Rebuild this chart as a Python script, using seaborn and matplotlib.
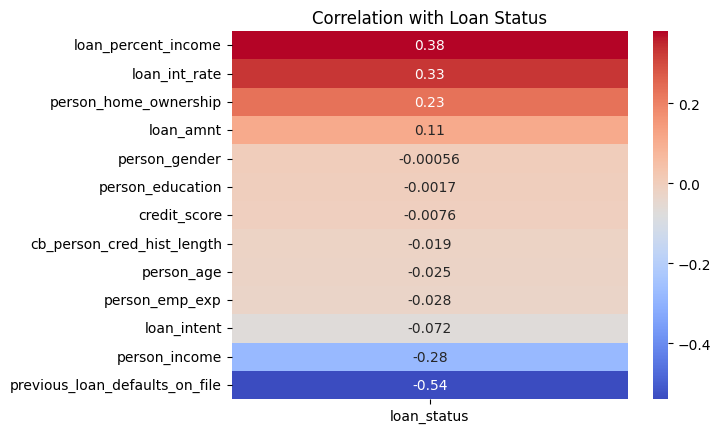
import pandas as pd
import matplotlib.pyplot as plt
import seaborn as sns

features = [
    "loan_percent_income", "loan_int_rate", "person_home_ownership", "loan_amnt",
    "person_gender", "person_education", "credit_score", "cb_person_cred_hist_length",
    "person_age", "person_emp_exp", "loan_intent", "person_income",
    "previous_loan_defaults_on_file",
]
corr_values = [0.38, 0.33, 0.23, 0.11, -0.00056, -0.0017, -0.0076, -0.019,
               -0.025, -0.028, -0.072, -0.28, -0.54]

df = pd.DataFrame({"loan_status": corr_values}, index=features)

fig = plt.figure(figsize=(7.24, 4.35), dpi=100)
ax = fig.add_axes([0.320, 0.080, 0.547, 0.846])
cax = fig.add_axes([0.902, 0.080, 0.021, 0.846])

sns.heatmap(df, annot=True, cmap="coolwarm", ax=ax, cbar_ax=cax)
ax.set_title("Correlation with Loan Status")
ax.set_ylabel("")

plt.savefig("out.png")
